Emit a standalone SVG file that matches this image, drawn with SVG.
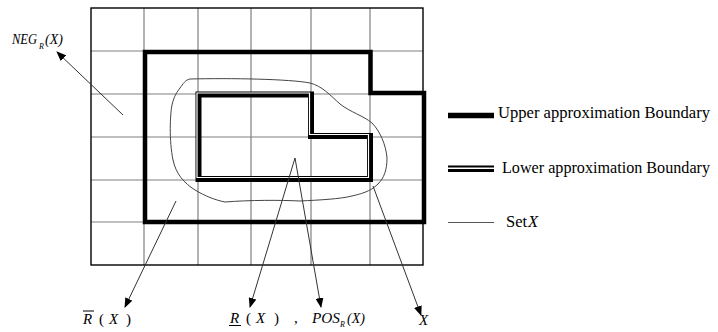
<svg xmlns="http://www.w3.org/2000/svg" width="718" height="332" viewBox="0 0 718 332">
<defs>
<marker id="ah" markerWidth="10" markerHeight="8" refX="9" refY="4" orient="auto" markerUnits="userSpaceOnUse">
<path d="M0,0 L10,4 L0,8 Z" fill="#000"/>
</marker>
<style>
.grid{stroke:#808080;stroke-width:1.2;fill:none}
.frame{stroke:#000;stroke-width:1.4;fill:none}
.upper{stroke:#000;stroke-width:4.5;fill:none}
.lowerB{stroke:#000;stroke-width:6;fill:none}
.lowerW{stroke:#fff;stroke-width:1.2;fill:none}
.setx{stroke:#444;stroke-width:1;fill:none}
.arr{stroke:#333;stroke-width:1;fill:none;marker-end:url(#ah)}
text{font-family:"Liberation Serif","Times New Roman",serif;fill:#000}
.it{font-style:italic}
.lg{font-size:16.5px}
.lb{font-size:15px}
.sm{font-size:14px}
</style>
</defs>
<rect width="718" height="332" fill="#fff"/>
<g id="grid">
<path class="grid" d="M144,8V265M198,8V265M251,8V265M311,8V265M370,8V265M91,51H423M91,94H423M91,137H423M91,180H423M91,222H423"/>
<rect class="frame" x="91" y="8" width="332" height="257"/>
</g>
<g id="upper-approximation">
<path class="upper" d="M145,52H370.5V93H424V222H145Z"/>
</g>
<g id="lower-approximation">
<path class="lowerB" d="M198.5,94.5H311V136H370V179H198.5Z"/>
<path class="lowerW" d="M197,93H309.5V134.5H368.5V177.5H197Z"/>
</g>
<g id="set-x">
<path class="setx" d="M190,79 C230,78 290,79 310,83 C322,86 330,95 340,104 C350,112 364,116 372,123 C380,131 386,145 387,158 C387,170 384,178 378,184 C370,192 360,194 352,196 C340,199 320,200 300,201 C280,200 250,200 225,202 C215,200 205,196 195,190 C184,183 176,174 173,160 C169,140 170,115 172,105 C174,96 177,92 180,88 C183,84 185,80 190,79 Z"/>
</g>
<g id="connectors">
<line class="arr" x1="123" y1="115" x2="57" y2="52"/>
<line class="arr" x1="176" y1="201" x2="125" y2="307"/>
<line class="arr" x1="295" y1="158" x2="250" y2="307"/>
<line class="arr" x1="295" y1="158" x2="321" y2="307"/>
<line class="arr" x1="373" y1="186" x2="421" y2="315"/>
</g>
<g id="label-neg">
<text class="it sm" x="12" y="44" textLength="25" lengthAdjust="spacingAndGlyphs">NEG</text>
<text class="it" x="39" y="49" font-size="8">R</text>
<text class="it sm" x="45" y="44">(X)</text>
</g>
<g id="label-upper">
<text class="it lb" x="83" y="324">R</text>
<line x1="83" y1="311" x2="94" y2="311" stroke="#000" stroke-width="1"/>
<text class="lb" x="99" y="324">(</text>
<text class="it lb" x="109" y="324">X</text>
<text class="lb" x="126" y="324">)</text>
</g>
<g id="label-lower">
<text class="it lb" x="230" y="323">R</text>
<line x1="229" y1="325.5" x2="241" y2="325.5" stroke="#000" stroke-width="1"/>
<text class="lb" x="246" y="323">(</text>
<text class="it lb" x="256" y="323">X</text>
<text class="lb" x="274" y="323">)</text>
<text class="lb" x="294" y="323">,</text>
<text class="it sm" x="312" y="323" textLength="28" lengthAdjust="spacingAndGlyphs">POS</text>
<text class="it" x="340" y="327" font-size="8">R</text>
<text class="it sm" x="347" y="323">(X)</text>
</g>
<g id="label-x">
<text class="it lb" x="419" y="325">X</text>
</g>
<g id="legend">
<line x1="448" y1="115.5" x2="494" y2="115.5" stroke="#000" stroke-width="5.5"/>
<text class="lg" x="498" y="118" textLength="212" lengthAdjust="spacingAndGlyphs">Upper approximation Boundary</text>
<line x1="448" y1="166.5" x2="494" y2="166.5" stroke="#000" stroke-width="2"/>
<line x1="448" y1="170.5" x2="494" y2="170.5" stroke="#000" stroke-width="3"/>
<text class="lg" x="502" y="173" textLength="208" lengthAdjust="spacingAndGlyphs">Lower approximation Boundary</text>
<line x1="448" y1="222.5" x2="494" y2="222.5" stroke="#555" stroke-width="1"/>
<text class="lg" x="506" y="227">Set</text>
<text class="lg it" x="528" y="227">X</text>
</g>
</svg>
